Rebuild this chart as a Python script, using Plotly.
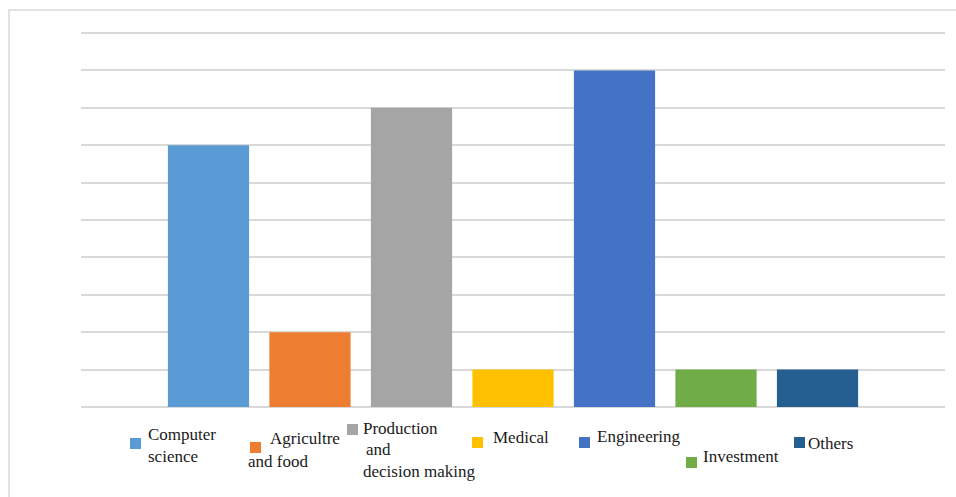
import plotly.graph_objects as go

categories = ["Computer science", "Agricultre and food", "Production and decision making",
              "Medical", "Engineering", "Investment", "Others"]
values = [7, 2, 8, 1, 9, 1, 1]
colors = ["#5B9BD5", "#ED7D31", "#A5A5A5", "#FFC000", "#4472C4", "#70AD47", "#255E91"]

# legend layout: (category index, square pixel (x, y top), list of text lines (text, x, y-center))
legend_items = [
    (0, (130, 438), [("Computer", 146, 434), ("science", 146, 456)]),
    (1, (250, 442), [("Agricultre", 268, 439), ("and food", 246, 461)]),
    (2, (347, 424), [("Production", 361, 428), ("and", 364, 449), ("decision making", 361, 471)]),
    (3, (472, 437), [("Medical", 491, 437)]),
    (4, (579, 437), [("Engineering", 595, 436)]),
    (5, (686, 457), [("Investment", 701, 456)]),
    (6, (794, 437), [("Others", 806, 443)]),
]

W, H = 956, 497
L, R, T, B = 81, 11, 31, 90
PW, PH = W - L - R, H - T - B
UNIT = 37.4  # pixels per y unit


def px(x):
    return (x - L) / PW


def py(y):
    return (H - B - y) / PH


fig = go.Figure()
fig.add_trace(go.Bar(
    x=list(range(len(categories))), y=values, marker=dict(color=colors, line=dict(width=0)),
    width=0.8, showlegend=False, hovertext=categories,
))

shapes = [dict(type="rect", xref="paper", yref="paper", x0=px(9), x1=px(990), y0=py(530), y1=py(10),
               line=dict(color="#d9d9d9", width=1.5), fillcolor="rgba(0,0,0,0)", layer="below")]
annotations = []
font = dict(family="Liberation Serif, serif", size=17, color="#1a1a1a")
for idx, (sx, sy), lines in legend_items:
    shapes.append(dict(type="rect", xref="paper", yref="paper", x0=px(sx), x1=px(sx + 11),
                       y0=py(sy + 11), y1=py(sy), line=dict(width=0), fillcolor=colors[idx]))
    for text, tx, ty in lines:
        annotations.append(dict(text=text, xref="paper", yref="paper", x=px(tx), y=py(ty),
                                xanchor="left", yanchor="middle", showarrow=False, font=font))

fig.update_layout(
    width=W, height=H, margin=dict(l=L, r=R, t=T, b=B),
    plot_bgcolor="white", paper_bgcolor="white",
    xaxis=dict(range=[-1.256, 7.256], showticklabels=False, showgrid=False, zeroline=False,
               showline=False, ticks=""),
    yaxis=dict(range=[0, PH / UNIT], dtick=1, showticklabels=False, showgrid=True, gridcolor="#d9d9d9",
               gridwidth=1.5, zeroline=True, zerolinecolor="#d9d9d9", zerolinewidth=1.5,
               showline=False, ticks=""),
    shapes=shapes, annotations=annotations, bargap=0.2,
)

fig.write_html("out.html")
